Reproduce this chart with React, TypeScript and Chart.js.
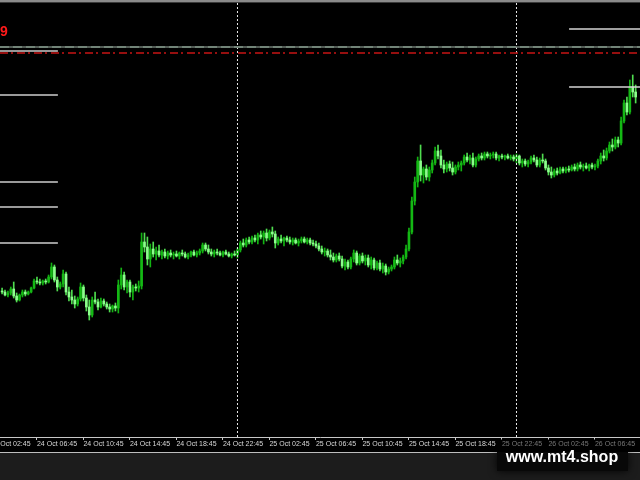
import React, { useEffect, useRef } from "react";
import { Chart, registerables } from "chart.js";

Chart.register(...registerables);

// M15 bars, index 0 = 24 Oct 03:45
const tickIndex = [-4, 12, 28, 44, 60, 76, 92, 108, 124, 140, 156, 172, 188, 204];
const tickLabels = [
  "24 Oct 02:45", "24 Oct 06:45", "24 Oct 10:45", "24 Oct 14:45", "24 Oct 18:45", "24 Oct 22:45",
  "25 Oct 02:45", "25 Oct 06:45", "25 Oct 10:45", "25 Oct 14:45", "25 Oct 18:45", "25 Oct 22:45",
  "26 Oct 02:45", "26 Oct 06:45",
];
const daySeparators = [81, 177];

const opens = [
  146, 145, 142, 144, 148, 141, 137, 142, 145, 143,
  145, 149, 156, 155, 154, 156, 155, 160, 170, 157,
  150, 153, 163, 145, 140, 137, 133, 138, 150, 139,
  130, 122, 137, 135, 130, 136, 133, 130, 128, 131,
  129, 152, 162, 150, 155, 145, 150, 149, 151, 195,
  190, 178, 188, 183, 186, 182, 185, 181, 184, 182,
  183, 181, 184, 183, 180, 182, 185, 182, 184, 186,
  192, 188, 185, 183, 185, 184, 182, 185, 183, 181,
  183, 182, 187, 194, 192, 197, 195, 199, 197, 202,
  200, 204, 199, 205, 203, 194, 198, 196, 199, 197,
  195, 197, 194, 196, 198, 195, 197, 194, 193, 191,
  188, 185, 186, 182, 180, 177, 181, 178, 171, 175,
  170, 178, 184, 174, 181, 176, 179, 172, 177, 169,
  174, 168, 171, 165, 168, 170, 177, 174, 176, 180,
  188, 205, 236, 255, 276, 262, 268, 260, 267, 274,
  286, 281, 272, 268, 273, 269, 265, 270, 272, 274,
  280, 277, 279, 272, 278, 281, 279, 283, 281, 282,
  283, 279, 281, 280, 281, 279, 280, 278, 281, 274,
  276, 273, 275, 279, 277, 272, 277, 276, 269, 265,
  262, 266, 264, 268, 266, 268, 267, 270, 268, 272,
  270, 271, 269, 272, 270, 271, 276, 281, 279, 286,
  292, 290, 297, 294, 316, 334, 325, 350, 345,
];
const highs = [
  149, 147, 146, 150, 155, 144, 143, 147, 147, 146,
  150, 158, 160, 158, 157, 158, 162, 174, 172, 160,
  155, 167, 165, 150, 147, 141, 140, 154, 152, 142,
  137, 140, 145, 138, 139, 138, 135, 133, 132, 134,
  157, 169, 165, 157, 157, 152, 153, 156, 204, 204,
  200, 193, 195, 190, 192, 187, 188, 186, 187, 185,
  186, 185, 187, 185, 184, 186, 187, 186, 188, 194,
  194, 192, 188, 187, 188, 186, 186, 187, 185, 184,
  186, 189, 196, 198, 199, 200, 201, 202, 204, 206,
  206, 208, 207, 210, 206, 200, 202, 200, 201, 200,
  199, 199, 198, 200, 200, 199, 199, 197, 196, 194,
  191, 189, 188, 187, 184, 183, 184, 181, 178, 177,
  180, 187, 186, 183, 184, 182, 182, 180, 179, 176,
  177, 174, 173, 170, 172, 180, 182, 179, 182, 192,
  209, 240, 260, 280, 292, 270, 272, 270, 277, 290,
  292, 287, 277, 275, 276, 275, 272, 275, 276, 282,
  284, 282, 284, 280, 283, 284, 285, 285, 284, 285,
  285, 282, 283, 282, 283, 282, 282, 283, 282, 278,
  278, 277, 281, 282, 280, 279, 283, 278, 272, 270,
  268, 269, 270, 270, 270, 271, 272, 273, 274, 275,
  273, 274, 273, 274, 273, 278, 284, 287, 289, 295,
  298, 300, 300, 320, 337, 340, 357, 362, 352,
];
const lows = [
  143, 141, 140, 142, 139, 135, 136, 140, 141, 142,
  144, 148, 153, 152, 152, 153, 154, 158, 155, 146,
  148, 150, 142, 136, 133, 129, 131, 136, 136, 126,
  117, 120, 133, 127, 129, 131, 128, 125, 125, 126,
  124, 148, 147, 144, 140, 137, 146, 145, 148, 185,
  172, 170, 180, 177, 180, 178, 179, 178, 180, 178,
  180, 178, 181, 179, 178, 180, 181, 180, 182, 184,
  186, 183, 181, 180, 182, 181, 180, 182, 180, 179,
  181, 179, 185, 190, 190, 193, 193, 195, 193, 198,
  193, 196, 197, 200, 189, 192, 194, 191, 195, 193,
  192, 193, 191, 194, 194, 193, 192, 191, 189, 186,
  183, 181, 180, 177, 175, 175, 176, 169, 167, 168,
  168, 175, 172, 172, 174, 172, 170, 168, 167, 167,
  166, 164, 162, 163, 166, 168, 172, 170, 173, 178,
  186, 203, 232, 250, 256, 254, 257, 256, 264, 272,
  278, 269, 264, 265, 266, 262, 263, 267, 266, 272,
  275, 273, 270, 270, 276, 277, 277, 279, 278, 279,
  277, 276, 278, 277, 278, 277, 276, 274, 272, 270,
  271, 270, 273, 275, 270, 270, 274, 267, 262, 259,
  260, 262, 263, 264, 264, 265, 266, 266, 266, 268,
  266, 268, 266, 268, 267, 269, 273, 276, 277, 284,
  286, 288, 290, 292, 314, 322, 323, 340, 334,
];
const closes = [
  145, 142, 144, 148, 141, 137, 142, 145, 143, 145,
  149, 156, 155, 154, 156, 155, 160, 170, 157, 150,
  153, 163, 145, 140, 137, 133, 138, 150, 139, 130,
  122, 137, 135, 130, 136, 133, 130, 128, 131, 129,
  152, 162, 150, 155, 145, 150, 149, 151, 195, 190,
  178, 188, 183, 186, 182, 185, 181, 184, 182, 183,
  181, 184, 183, 180, 182, 185, 182, 184, 186, 192,
  188, 185, 183, 185, 184, 182, 185, 183, 181, 183,
  182, 187, 194, 192, 197, 195, 199, 197, 202, 200,
  204, 199, 205, 203, 194, 198, 196, 199, 197, 195,
  197, 194, 196, 198, 195, 197, 194, 193, 191, 188,
  185, 186, 182, 180, 177, 181, 178, 171, 175, 170,
  178, 184, 174, 181, 176, 179, 172, 177, 169, 174,
  168, 171, 165, 168, 170, 177, 174, 176, 180, 188,
  205, 236, 255, 276, 262, 268, 260, 267, 274, 286,
  281, 272, 268, 273, 269, 265, 270, 272, 274, 280,
  277, 279, 272, 278, 281, 279, 283, 281, 282, 283,
  279, 281, 280, 281, 279, 280, 278, 281, 274, 276,
  273, 275, 279, 277, 272, 277, 276, 269, 265, 262,
  266, 264, 268, 266, 268, 267, 270, 268, 272, 270,
  271, 269, 272, 270, 271, 276, 281, 279, 286, 292,
  290, 297, 294, 316, 334, 325, 350, 345, 340,
];

// horizontal levels (price units)
const levelsLeft = [342, 255, 230, 194];
const levelsRight = [408, 350];
const levelShortWhite = 386;
const levelGray = 390;
const levelRed = 384;
const leftSegmentEnd = 19.2;
const rightSegmentStart = 195.1;

const X_MIN = -0.72;
const X_MAX = 219.5;
const Y_MIN = 0;
const Y_MAX = 437;

const decorPlugin = {
  id: "decor",
  beforeDraw(chart: any) {
    const c = chart.ctx;
    const w = chart.width;
    const h = chart.height;
    c.save();
    c.fillStyle = "#000000";
    c.fillRect(0, 0, w, h);
    c.fillStyle = "#1c1c1c";
    c.fillRect(0, 453, w, h - 453);
    c.strokeStyle = "#bdbdbd";
    c.lineWidth = 1;
    c.beginPath();
    c.moveTo(0, 452.5);
    c.lineTo(w, 452.5);
    c.stroke();
    c.restore();
  },
  afterDraw(chart: any) {
    const c = chart.ctx;
    const w = chart.width;
    c.save();
    // top frame
    c.fillStyle = "#8a8a8a";
    c.fillRect(0, 0, w, 2);
    c.fillStyle = "#3a3a3a";
    c.fillRect(0, 2, w, 1);
    // partial red price label
    c.font = 'bold 14px "Liberation Sans", Arial, sans-serif';
    c.fillStyle = "#ff1a1a";
    c.textBaseline = "alphabetic";
    c.textAlign = "left";
    c.fillText("9", 0, 36);
    // dim labels under watermark glow
    c.fillStyle = "rgba(0,0,0,0.45)";
    c.fillRect(497, 439, w - 497, 13);
    // watermark
    c.shadowColor = "rgba(0,0,0,0.9)";
    c.shadowBlur = 8;
    c.fillStyle = "#080808";
    c.fillRect(497, 452, 131, 19);
    c.shadowBlur = 0;
    c.shadowColor = "transparent";
    c.font = 'bold 16px "Liberation Sans", Arial, sans-serif';
    c.fillStyle = "#ffffff";
    c.textAlign = "center";
    c.fillText("www.mt4.shop", 562, 462);
    c.restore();
  },
};

export default function App() {
  const ref = useRef<HTMLCanvasElement>(null);

  useEffect(() => {
    if (!ref.current) return;
    const idx = closes.map((_, i) => i);
    const bull = idx.map((i) => closes[i] >= opens[i]);
    const hline = (v: number, a: number, b: number) => [
      { x: a, y: v },
      { x: b, y: v },
    ];
    const lineDs = (data: any[], color: string, width: number, dash: number[] = []) => ({
      type: "line" as const,
      data,
      borderColor: color,
      borderWidth: width,
      borderDash: dash,
      pointRadius: 0,
      fill: false,
      tension: 0,
      order: 1,
    });

    const datasets: any[] = [
      {
        type: "bar",
        label: "wicks",
        data: idx.map((i) => ({ x: i, y: [lows[i], highs[i]] })),
        backgroundColor: idx.map((i) => (bull[i] ? "#12b412" : "#4fdc4f")),
        barThickness: 1,
        grouped: false,
        minBarLength: 1,
        order: 10,
      },
      {
        type: "bar",
        label: "bodies",
        data: idx.map((i) => ({ x: i, y: [opens[i], closes[i]] })),
        backgroundColor: idx.map((i) => (bull[i] ? "#14b814" : "#8cff8c")),
        barThickness: 2,
        grouped: false,
        minBarLength: 1,
        order: 9,
      },
      lineDs(hline(levelGray, X_MIN, X_MAX), "#6e7a72", 1.5),
      lineDs(hline(levelGray, X_MIN, X_MAX), "#a9d9b8", 1.5, [9, 4]),
      lineDs(hline(levelShortWhite, X_MIN, leftSegmentEnd), "#c8c8c8", 1.5),
      lineDs(hline(levelRed, X_MIN, X_MAX), "#c81414", 1.5, [8, 3, 2, 4]),
      ...levelsLeft.map((v) => lineDs(hline(v, X_MIN, leftSegmentEnd), "#9a9a9a", 2)),
      ...levelsRight.map((v) => lineDs(hline(v, rightSegmentStart, X_MAX), "#d4d4d4", 1.5)),
      ...daySeparators.map((d) =>
        lineDs(
          [
            { x: d, y: Y_MIN },
            { x: d, y: Y_MAX - 3 },
          ],
          "#e8e8e8",
          1,
          [2, 2]
        )
      ),
    ];

    const chart = new Chart(ref.current, {
      type: "bar",
      data: { datasets },
      options: {
        animation: false,
        responsive: false,
        maintainAspectRatio: false,
        events: [],
        layout: { padding: 0 },
        plugins: {
          legend: { display: false },
          tooltip: { enabled: false },
        },
        scales: {
          x: {
            type: "linear",
            min: X_MIN,
            max: X_MAX,
            offset: false,
            afterBuildTicks: (scale: any) => {
              scale.ticks = tickIndex.map((v) => ({ value: v }));
            },
            afterFit: (scale: any) => {
              scale.height = 43;
              scale.paddingLeft = 0;
              scale.paddingRight = 0;
            },
            border: { display: true, color: "#c8c8c8", width: 1 },
            grid: {
              display: true,
              offset: false,
              drawOnChartArea: false,
              drawTicks: true,
              tickLength: 3,
              color: "#c8c8c8",
            },
            ticks: {
              autoSkip: false,
              maxRotation: 0,
              minRotation: 0,
              align: "start",
              padding: 0,
              color: "#d8d8d8",
              font: { family: '"Liberation Sans", Arial, sans-serif', size: 7 },
              callback: (value: any) => {
                const k = tickIndex.indexOf(Number(value));
                return k >= 0 ? tickLabels[k] : "";
              },
            },
          },
          y: {
            type: "linear",
            display: false,
            min: Y_MIN,
            max: Y_MAX,
          },
        },
      } as any,
      plugins: [decorPlugin],
    });

    return () => chart.destroy();
  }, []);

  return (
    <div style={{ position: "fixed", left: 0, top: 0, width: 640, height: 480, background: "#000" }}>
      <canvas ref={ref} width={640} height={480} style={{ display: "block" }} />
    </div>
  );
}
